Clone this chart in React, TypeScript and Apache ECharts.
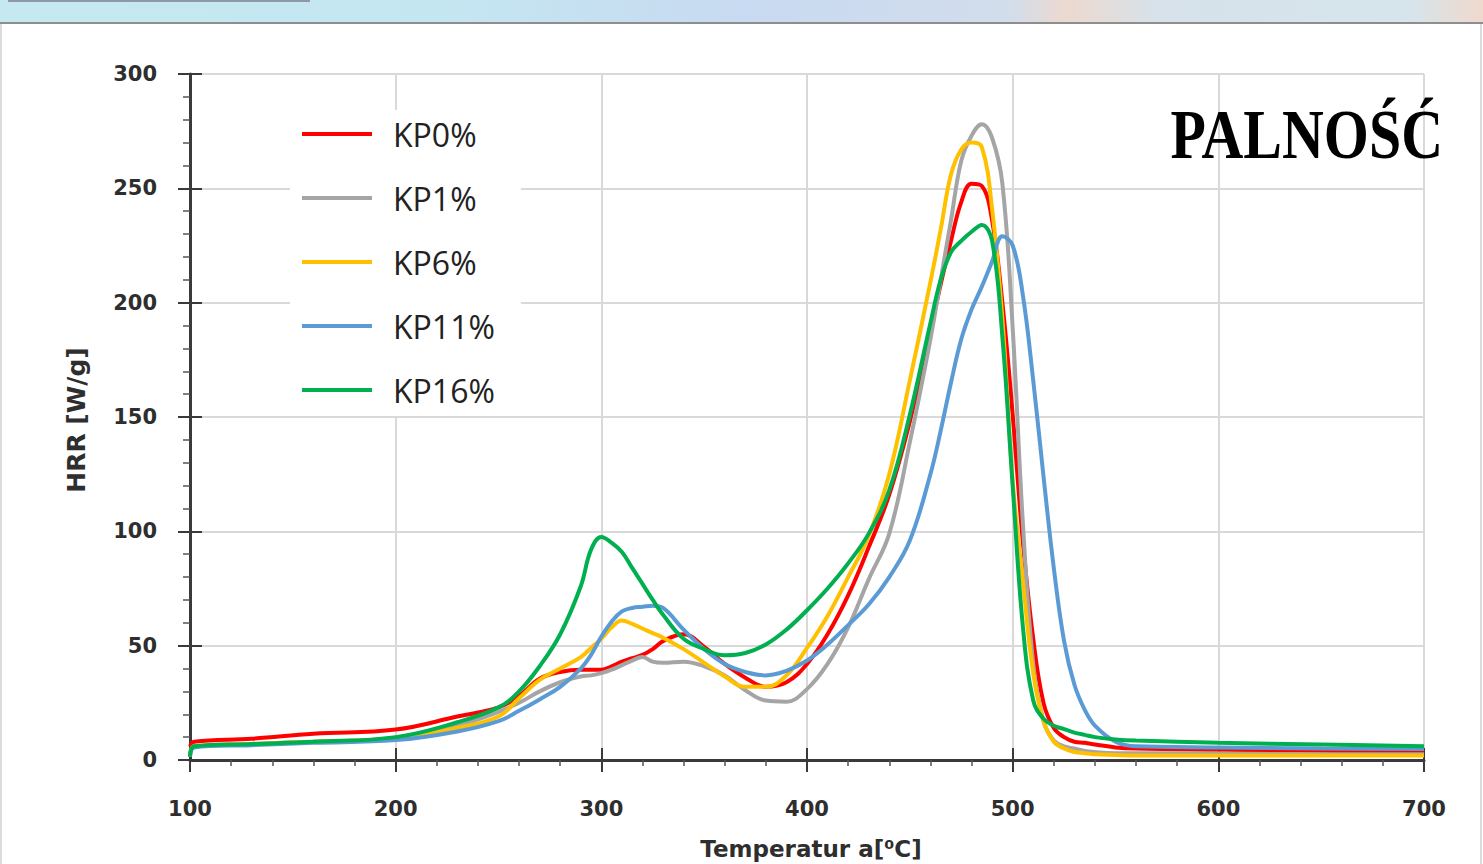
import React, { useEffect, useRef } from "react";
import * as echarts from "echarts";

// Temperature grid [°C]
const temps = [
  100, 102, 130, 160, 200, 230, 250, 260, 270, 280,
  290, 295, 300, 305, 310, 315, 320, 325, 330, 340,
  350, 360, 370, 380, 390, 400, 410, 420, 430, 440,
  450, 460, 465, 470, 475, 480, 485, 490, 495, 500,
  505, 510, 515, 520, 525, 530, 535, 540, 550, 560,
  600, 650, 700,
];

// HRR [W/g]
const kp0 = [
  6, 8, 9.3, 11.5, 13.3, 19, 23, 28, 35.5, 38.5,
  39.5, 39.5, 39.5, 41, 43, 44.5, 46, 48.5, 52, 55,
  49.5, 42, 36, 32, 34, 42, 55, 72, 93, 116,
  148, 188, 208, 227, 244, 252, 251, 236, 200, 151,
  95, 53, 25, 14, 10, 8, 7.5, 6.8, 5.5, 5,
  4.5, 4, 3.5,
];
const kp1 = [
  1.5, 6, 7, 8, 9.5, 15, 21, 25, 30, 34,
  36.5, 37, 38, 39.5, 41.5, 43.5, 45, 43, 42.5, 43,
  41, 37, 30.5, 26, 25.5, 31, 42, 58, 79, 99,
  139, 184, 210, 236, 262, 273, 278, 272, 252, 189,
  103, 42, 17, 8.5, 6, 5, 4, 3.5, 3, 3,
  2.8, 2.5, 2.5,
];
const kp6 = [
  1.5, 6, 7, 8, 9.5, 14, 19, 27, 35, 40,
  45, 49, 53, 58, 61, 59.5, 57.5, 55.5, 53.5, 48.5,
  42.5, 36.5, 32, 32, 37, 49, 63, 80, 98, 125,
  166, 209, 232, 256, 267, 270, 268, 241, 193, 122,
  78, 38, 17, 8, 5, 3.5, 3, 2.5, 2.2, 2,
  2, 2, 2,
];
const kp11 = [
  1.5, 5.5, 6.5, 7.5, 8.7, 12.5, 17, 21.5, 26.5, 32,
  40, 46, 54, 60.5, 65, 66.5, 67, 67.5, 66.5, 57,
  48.5, 42, 38.5, 37, 39, 43.5, 50.5, 59, 68, 80,
  96, 125, 144, 165, 184, 197, 207, 218, 229, 225,
  203, 166, 124, 84, 52, 33, 22, 15, 8, 6,
  5.5, 5, 4.8,
];
const kp16 = [
  1.5, 6, 7, 8, 10, 16.5, 23, 30, 41, 55,
  76, 92, 97.5, 95, 91, 84, 77, 70, 63.5, 53,
  48.5, 45.8, 46.8, 50.5, 57, 65.5, 75, 86, 99, 118,
  151, 191, 210, 222, 227, 231, 234, 227, 185, 120,
  58, 26, 18, 15, 13.5, 12, 11, 10, 9, 8.5,
  7.5, 6.8, 6,
];

const seriesNames = ["KP0%", "KP1%", "KP6%", "KP11%", "KP16%"];
const seriesColors = ["#ff0000", "#a5a5a5", "#ffc000", "#5b9bd5", "#00b050"];
const valueSets = [kp0, kp1, kp6, kp11, kp16];

const titleText = "PALNOŚĆ";
const yName = "HRR [W/g]";
const xName = "Temperatur a[⁰C]";

const AXIS_DARK = "#3a3a3a";
const LABEL_COLOR = "#2e2e2e";

export default function App() {
  const ref = useRef<HTMLDivElement>(null);

  useEffect(() => {
    const chart = echarts.init(ref.current!, null, { renderer: "svg" });

    const series = seriesNames.map((name, i) => ({
      name,
      type: "line",
      xAxisIndex: 0,
      yAxisIndex: 0,
      data: temps.map((t, j) => [t, valueSets[i][j]]),
      symbol: "none",
      smooth: 0.4,
      z: 3 + i,
      lineStyle: { width: 4, color: seriesColors[i] },
      itemStyle: { color: seriesColors[i] },
    }));

    const tickLabel = {
      color: LABEL_COLOR,
      fontFamily: "DejaVu Sans",
      fontWeight: "bold",
      fontSize: 21,
    };

    chart.setOption({
      animation: false,
      backgroundColor: "#ffffff",
      grid: { left: 190, right: 59, top: 74, bottom: 104, containLabel: false },
      xAxis: [
        {
          type: "value",
          min: 100,
          max: 700,
          interval: 100,
          axisLine: { show: true, onZero: false, lineStyle: { color: AXIS_DARK, width: 3 } },
          axisTick: { show: true, length: 12, lineStyle: { color: AXIS_DARK, width: 2 } },
          minorTick: { show: true, splitNumber: 5, length: 6, lineStyle: { color: "#555", width: 1.5 } },
          axisLabel: { ...tickLabel, margin: 38 },
          splitLine: { show: true, lineStyle: { color: "#d9d9d9", width: 2 } },
        },
        {
          type: "value",
          min: 100,
          max: 700,
          interval: 100,
          position: "bottom",
          axisLine: { show: false },
          axisTick: { show: true, inside: true, length: 12, lineStyle: { color: AXIS_DARK, width: 2 } },
          axisLabel: { show: false },
          splitLine: { show: false },
        },
      ],
      yAxis: [
        {
          type: "value",
          min: 0,
          max: 300,
          interval: 50,
          axisLine: { show: true, lineStyle: { color: AXIS_DARK, width: 3 } },
          axisTick: { show: true, length: 12, lineStyle: { color: AXIS_DARK, width: 2 } },
          minorTick: { show: true, splitNumber: 5, length: 7, lineStyle: { color: "#555", width: 1.5 } },
          axisLabel: { ...tickLabel, margin: 33 },
          splitLine: { show: true, lineStyle: { color: "#d9d9d9", width: 2 } },
        },
        {
          type: "value",
          min: 0,
          max: 300,
          interval: 50,
          position: "left",
          axisLine: { show: false },
          axisTick: { show: true, inside: true, length: 12, lineStyle: { color: AXIS_DARK, width: 2 } },
          axisLabel: { show: false },
          splitLine: { show: false },
        },
      ],
      legend: {
        orient: "vertical",
        left: 290,
        top: 110,
        padding: [8, 26, 10, 12],
        backgroundColor: "#ffffff",
        icon: "rect",
        itemWidth: 70,
        itemHeight: 4,
        itemGap: 32,
        data: seriesNames,
        textStyle: {
          fontFamily: "Open Sans",
          fontSize: 32,
          color: "#222",
          lineHeight: 30,
          padding: [0, 0, 0, 16],
        },
      },
      graphic: [
        {
          type: "rect",
          silent: true,
          z: 100,
          shape: { x: 0, y: 0, width: 1483, height: 23 },
          style: {
            fill: new echarts.graphic.LinearGradient(0, 0, 1, 0, [
              { offset: 0, color: "#c6e8f0" },
              { offset: 0.3, color: "#c4e6f1" },
              { offset: 0.5, color: "#c8daf1" },
              { offset: 0.68, color: "#d2ddec" },
              { offset: 0.72, color: "#ecd9cf" },
              { offset: 0.78, color: "#d7e2ea" },
              { offset: 0.95, color: "#d6e5ec" },
              { offset: 1, color: "#efd9cd" },
            ]),
          },
        },
        {
          type: "rect",
          silent: true,
          z: 101,
          shape: { x: 8, y: 0, width: 302, height: 2 },
          style: { fill: "#8d9aa6" },
        },
        {
          type: "rect",
          silent: true,
          z: 101,
          shape: { x: 0, y: 22, width: 1483, height: 2 },
          style: { fill: "#8e8e8e" },
        },
        {
          type: "rect",
          silent: true,
          z: 101,
          shape: { x: 0, y: 24, width: 2, height: 840 },
          style: { fill: "#dcdcdc" },
        },
        {
          type: "rect",
          silent: true,
          z: 101,
          shape: { x: 1480, y: 24, width: 2, height: 840 },
          style: { fill: "#dcdcdc" },
        },
        {
          type: "text",
          silent: true,
          z: 102,
          x: 1443,
          y: 134.5,
          scaleX: 0.84,
          style: {
            text: titleText,
            fill: "#000",
            fontFamily: "Liberation Serif",
            fontWeight: "bold",
            fontSize: 69,
            align: "right",
            verticalAlign: "middle",
            textAlign: "right",
            textVerticalAlign: "middle",
          },
        },
        {
          type: "text",
          silent: true,
          z: 102,
          x: 76,
          y: 420,
          rotation: Math.PI / 2,
          style: {
            text: yName,
            fill: LABEL_COLOR,
            fontFamily: "DejaVu Sans",
            fontWeight: "bold",
            fontSize: 25,
            align: "center",
            verticalAlign: "middle",
            textAlign: "center",
            textVerticalAlign: "middle",
          },
        },
        {
          type: "text",
          silent: true,
          z: 102,
          x: 811,
          y: 849,
          style: {
            text: xName,
            fill: LABEL_COLOR,
            fontFamily: "DejaVu Sans",
            fontWeight: "bold",
            fontSize: 23,
            align: "center",
            verticalAlign: "middle",
            textAlign: "center",
            textVerticalAlign: "middle",
          },
        },
      ],
      series,
    });

    return () => chart.dispose();
  }, []);

  return (
    <div
      ref={ref}
      style={{ position: "fixed", left: 0, top: 0, width: 1483, height: 864, background: "#fff" }}
    />
  );
}
